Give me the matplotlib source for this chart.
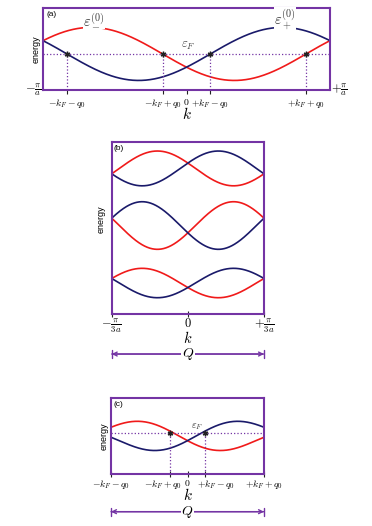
import numpy as np
import matplotlib
matplotlib.use('Agg')
import matplotlib.pyplot as plt
from matplotlib.transforms import ScaledTranslation

plt.rcParams['mathtext.fontset'] = 'cm'
plt.rcParams['font.family'] = ['Liberation Sans', 'DejaVu Sans']

PURPLE = '#7434A4'
RED = '#F01A1A'
NAVY = '#1A1A6A'
MARK = '#222222'
LABEL = '#3A3A3A'

# ---------------- data ----------------
# Panel (a): k in units of pi/a, energy with eps_F = 0
kF = 0.5
q0 = 1 / 3
a_band_peak = 2 / 3          # eps_+ maximum position (eps_- mirrored)
a_band_amp = 1.0
a_eF = 0.0
a_ticks = [-kF - q0, -kF + q0, 0.0, kF - q0, kF + q0]
a_ticklabels = [r'$-k_F-q_0$', r'$-k_F+q_0$', r'$0$', r'$+k_F-q_0$', r'$+k_F+q_0$']
a_ylim = (-1.36, 1.72)

# Panel (b): k in units of pi/3a, arbitrary energy units
b_centers = [145.6, 88.5, 31.0]
b_amps = [17.4, 23.8, 14.7]
b_peaks = [-0.4, -0.6, -0.6]          # peak position of the rising curve
b_rising = ['red', 'blue', 'red']     # which curve rises from the left edge
b_ticks = [-1.0, 0.0, 1.0]
b_ticklabels = [r'$-\frac{\pi}{3a}$', r'$0$', r'$+\frac{\pi}{3a}$']
b_ylim = (0, 172)

# Panel (c): k in units of (k_F + q_0), arbitrary energy units
c_center = 37.5
c_amp = 12.0
c_peak = -0.614
c_tilt = -5.0
c_eF = 41.3
c_ticks = [-1.0, -0.23, 0.0, 0.23, 1.0]
c_ticklabels = [r'$-k_F-q_0$', r'$-k_F+q_0$', r'$0$', r'$+k_F-q_0$', r'$+k_F+q_0$']
c_ylim = (0, 76)

# ---------------- figure ----------------
fig = plt.figure(figsize=(3.72, 5.26), dpi=100)
ax_a = fig.add_axes([0.1156, 0.8289, 0.7715, 0.1553])
ax_b = fig.add_axes([0.3003, 0.4030, 0.4094, 0.3270])
ax_c = fig.add_axes([0.2984, 0.0989, 0.4113, 0.1445])

for ax in (ax_a, ax_b, ax_c):
    for sp in ax.spines.values():
        sp.set_color(PURPLE)
        sp.set_linewidth(1.5)
    ax.set_yticks([])
    ax.tick_params(axis='x', direction='out', length=3, width=0.8, color=MARK,
                   labelsize=7, pad=2)
    ax.set_ylabel('energy', fontsize=6.5, labelpad=2)

# ---- (a)
k = np.linspace(-1, 1, 400)
eps_plus = a_band_amp * np.cos(np.pi * (k - a_band_peak))
eps_minus = a_band_amp * np.cos(np.pi * (k + a_band_peak))
ax_a.plot(k, eps_minus, color=RED, lw=1.2)
ax_a.plot(k, eps_plus, color=NAVY, lw=1.2)
ax_a.axhline(a_eF, color=PURPLE, ls=':', lw=0.9)
cross_a = [t for t in a_ticks if t != 0]
ax_a.vlines(cross_a, a_ylim[0], a_eF, colors=PURPLE, linestyles=':', lw=0.9)
ax_a.plot(cross_a, [a_eF] * len(cross_a), ls='none', marker=(6, 2, 0),
          ms=4, mew=1, color=MARK)
ax_a.set_xlim(-1, 1)
ax_a.set_ylim(*a_ylim)
ax_a.set_xticks(a_ticks)
ax_a.set_xticklabels(a_ticklabels)
ax_a.set_xlabel(r'$k$', fontsize=11)
ax_a.xaxis.set_label_coords(0.5, -0.294)
ax_a.xaxis.label.set_va('center')
ax_a.text(-1.01, a_ylim[0], r'$-\frac{\pi}{a}$', ha='right', va='center', fontsize=9)
ax_a.text(1.01, a_ylim[0], r'$+\frac{\pi}{a}$', ha='left', va='center', fontsize=9)
ax_a.text(0.012, 0.97, '(a)', transform=ax_a.transAxes, ha='left', va='top', fontsize=6)
ax_a.text(-0.645, 1.28, r'$\varepsilon_-^{(0)}$', ha='center', va='center', fontsize=10.5,
          color=LABEL, bbox=dict(fc='white', ec='none', pad=0.3))
ax_a.text(0.686, 1.28, r'$\varepsilon_+^{(0)}$', ha='center', va='center', fontsize=10.5,
          color=LABEL, bbox=dict(fc='white', ec='none', pad=0.3))
ax_a.text(0.015, 0.08, r'$\varepsilon_F$', ha='center', va='bottom', fontsize=9,
          color=LABEL)

# ---- (b)
u = np.linspace(-1, 1, 400)
for C, A, p, rise in zip(b_centers, b_amps, b_peaks, b_rising):
    up = C + A * np.cos(np.pi * (u - p))
    down = C + A * np.cos(np.pi * (-u - p))
    red_curve, blue_curve = (up, down) if rise == 'red' else (down, up)
    ax_b.plot(u, red_curve, color=RED, lw=1.2)
    ax_b.plot(u, blue_curve, color=NAVY, lw=1.2)
ax_b.set_xlim(-1, 1)
ax_b.set_ylim(*b_ylim)
ax_b.set_xticks(b_ticks)
ax_b.set_xticklabels(b_ticklabels, fontsize=9)
ax_b.tick_params(axis='x', direction='inout', length=4, pad=0)
ax_b.set_xlabel(r'$k$', fontsize=10.5)
ax_b.xaxis.set_label_coords(0.5, -0.14)
ax_b.xaxis.label.set_va('center')
ax_b.text(0.015, 0.985, '(b)', transform=ax_b.transAxes, ha='left', va='top', fontsize=6)
ax_b.yaxis.set_label_coords(-0.04, 0.55)

# ---- (c)
red_c = c_center + c_amp * np.cos(np.pi * (u - c_peak)) + c_tilt * u
blue_c = c_center + c_amp * np.cos(np.pi * (-u - c_peak)) - c_tilt * u
ax_c.plot(u, red_c, color=RED, lw=1.2)
ax_c.plot(u, blue_c, color=NAVY, lw=1.2)
ax_c.axhline(c_eF, color=PURPLE, ls=':', lw=0.9)
cross_c = [c_ticks[1], c_ticks[3]]
ax_c.vlines(cross_c, c_ylim[0], c_eF, colors=PURPLE, linestyles=':', lw=0.9)
ax_c.plot(cross_c, [c_eF] * 2, ls='none', marker=(6, 2, 0), ms=4, mew=1, color=MARK)
ax_c.set_xlim(-1, 1)
ax_c.set_ylim(*c_ylim)
ax_c.set_xticks(c_ticks)
ax_c.set_xticklabels(c_ticklabels)
ax_c.tick_params(axis='x', direction='inout', length=4, pad=1)
ax_c.set_xlabel(r'$k$', fontsize=11)
ax_c.xaxis.set_label_coords(0.5, -0.276)
ax_c.xaxis.label.set_va('center')
ax_c.text(0.015, 0.96, '(c)', transform=ax_c.transAxes, ha='left', va='top', fontsize=6)
ax_c.text(0.12, 47.5, r'$\varepsilon_F$', ha='center', va='center', fontsize=7.5,
          color=LABEL)
labs = ax_c.get_xticklabels()
labs[1].set_transform(labs[1].get_transform() + ScaledTranslation(-7 / 100, 0, fig.dpi_scale_trans))
labs[3].set_transform(labs[3].get_transform() + ScaledTranslation(11 / 100, 0, fig.dpi_scale_trans))

# ---- Q arrows
for ax, yq in ((ax_b, -0.2326), (ax_c, -0.496)):
    ax.annotate('', xy=(0, yq), xytext=(1, yq), xycoords='axes fraction',
                arrowprops=dict(arrowstyle='<->', color=PURPLE, lw=1.0,
                                shrinkA=0, shrinkB=0, mutation_scale=7),
                annotation_clip=False)
    ax.annotate('', xy=(0, yq), xytext=(1, yq), xycoords='axes fraction',
                arrowprops=dict(arrowstyle='|-|', color=PURPLE, lw=1.0,
                                shrinkA=0, shrinkB=0, mutation_scale=3),
                annotation_clip=False)
    ax.text(0.5, yq, r'$Q$', transform=ax.transAxes, ha='center', va='center',
            fontsize=10, bbox=dict(fc='white', ec='none', pad=0.6))

fig.savefig('out.png', dpi=100)
